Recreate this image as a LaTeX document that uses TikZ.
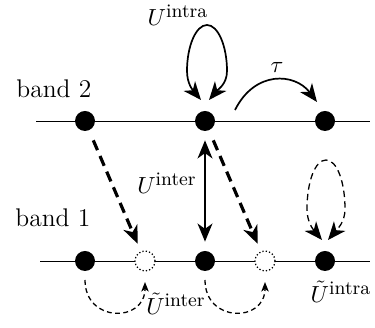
\documentclass[tikz,border=0pt]{standalone}
\usepackage{amsmath,amssymb}
\usepackage{tikz}
\usetikzlibrary{arrows.meta,calc}
\newcommand{\upidx}[1]{\mbox{\fontsize{9}{10}\selectfont #1}}

\begin{document}
\begin{tikzpicture}[x=0.47pt,y=0.47pt,>={Stealth[length=8.5pt,width=7pt,inset=2.5pt]}]
\tikzset{site/.style={circle,fill=black,inner sep=0pt,minimum size=9.4pt}, hole/.style={circle,draw,fill=white,densely dotted,semithick,inner sep=0pt,minimum size=9.4pt}, hop/.style={->,thick}, pair/.style={->,line width=1.5pt,dash pattern=on 5pt off 3pt}, virt/.style={semithick,dash pattern=on 3pt off 2pt}, assist/.style={->,semithick,dash pattern=on 2.3pt off 1.6pt,>={Stealth[length=4.5pt,width=3.5pt,inset=1.2pt]}}, lbl/.style={inner sep=0pt,font=\fontsize{11}{13}\selectfont}}
\useasboundingbox (0,0) rectangle (375,328);
% the two bands
\coordinate (w2) at (36,207);
\coordinate (e2) at (370,207);
\coordinate (w1) at (40,67);
\coordinate (e1) at (370,67);
\draw[thin] (w2) -- (e2);
\draw[thin] (w1) -- (e1);
\node[site] (s2a) at (85,207) {};
\node[site] (s2b) at (205,207) {};
\node[site] (s2c) at (325,207) {};
\node[site] (s1a) at (85,67) {};
\node[site] (s1b) at (205,67) {};
\node[site] (s1c) at (325,67) {};
\node[hole] (h1a) at (145,67) {};
\node[hole] (h1b) at (265,67) {};
\node[inner sep=0pt,anchor=base west] (band2) at (16,230) {\large band 2};
\node[inner sep=0pt,anchor=base west] (band1) at (15,101) {\large band 1};
% hopping and interactions
\draw[hop] ($(s2b)+(30,11)$) .. controls +(20,40) and +(-22,29) .. ($(s2c)+(-8,19)$);
\node[lbl] (tau) at (277,261) {$\tau$};
\draw[hop,<->] ($(s2b)+(-4,21)$) to[out=130,in=-90] ($(s2b)+(-18,50)$) .. controls +(0,25) and +(-11,0) .. ($(s2b)+(2,96)$) .. controls +(11,0) and +(0,25) .. ($(s2b)+(22,50)$) to[out=-90,in=50] ($(s2b)+(4,21)$);
\node[lbl] (uintra) at (178,313) {$U^{\upidx{intra}}$};
\draw[hop,<->,shorten <=4.2pt,shorten >=4.2pt] (s2b) -- (s1b);
\node[lbl] (uinter) at (167,145) {$U^{\upidx{inter}}$};
\draw[pair,shorten <=5pt,shorten >=3.8pt] (s2a) -- (h1a);
\draw[pair,shorten <=5pt,shorten >=3.8pt] (s2b) -- (h1b);
\draw[virt,<->] ($(s1c)+(-3,21)$) to[out=130,in=-90] ($(s1c)+(-18,52)$) .. controls +(0,27) and +(-11,0) .. ($(s1c)+(1,101)$) .. controls +(11,0) and +(0,27) .. ($(s1c)+(20,52)$) to[out=-90,in=50] ($(s1c)+(3,21)$);
\node[lbl] (tuintra) at (341,36) {$\tilde{U}^{\upidx{intra}}$};
\draw[assist] ($(s1a)+(0,-19)$) .. controls +(0,-43) and +(0,-41) .. ($(h1a)+(0,-21)$);
\draw[assist] ($(s1b)+(0,-19)$) .. controls +(0,-43) and +(0,-41) .. ($(h1b)+(0,-21)$);
\node[lbl] (tuinter) at (176,24) {$\tilde{U}^{\upidx{inter}}$};
\end{tikzpicture}
\end{document}
